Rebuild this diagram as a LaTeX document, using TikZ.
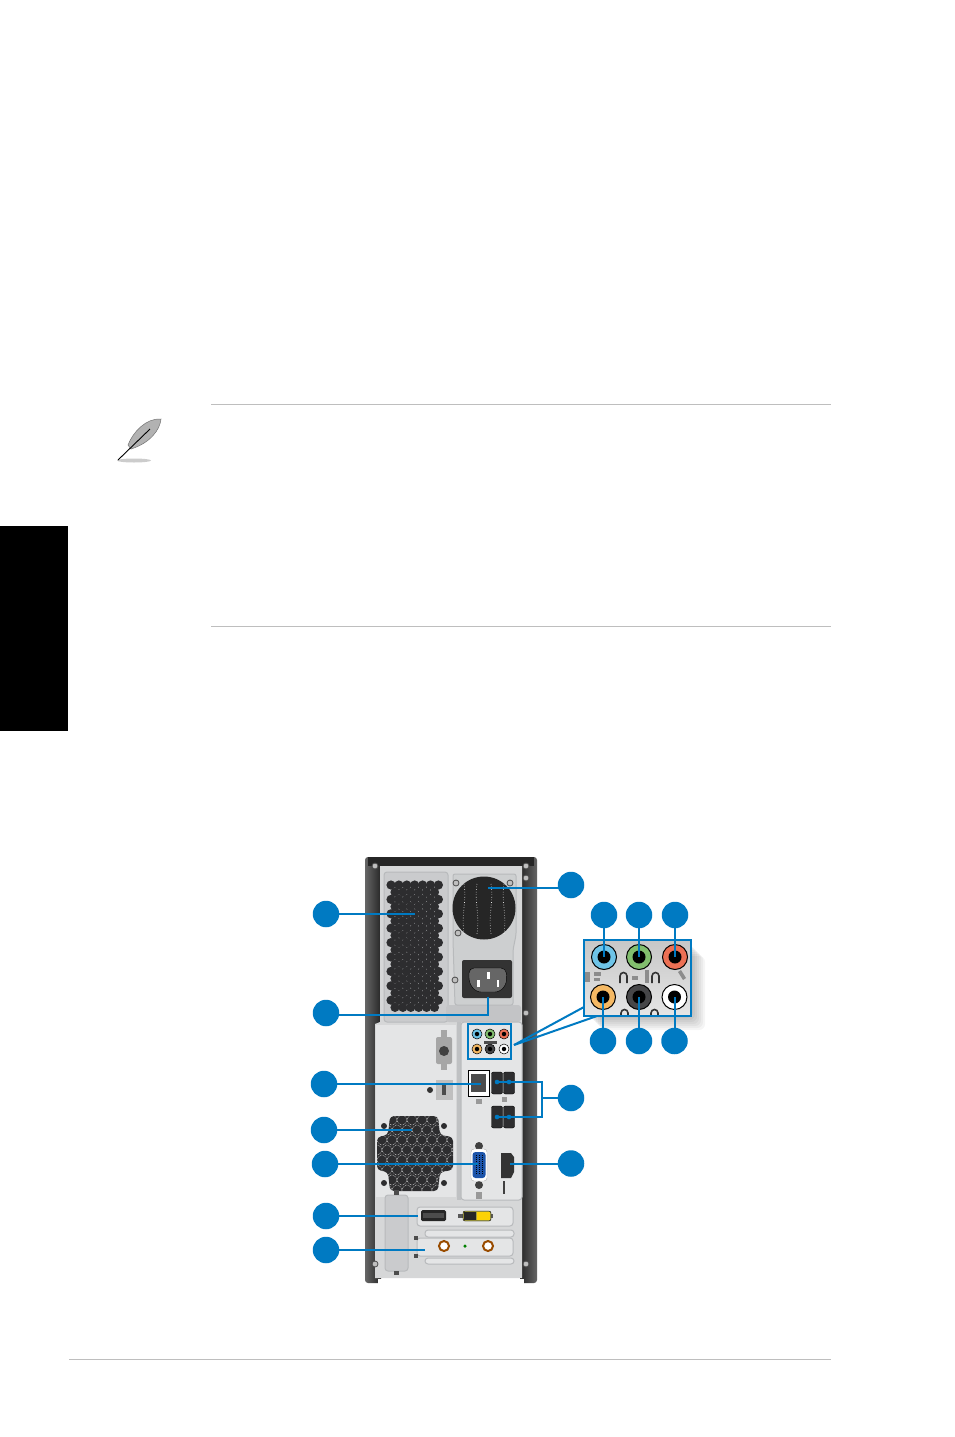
\documentclass[tikz,border=0pt]{standalone}
\usetikzlibrary{arrows.meta, calc}
\definecolor{leaderblue}{RGB}{0, 122, 194}
\definecolor{casedark}{RGB}{62, 62, 64}
\definecolor{panelgrey}{RGB}{214, 215, 216}
\definecolor{platelight}{RGB}{228, 229, 230}
\definecolor{platemid}{RGB}{184, 186, 188}
\definecolor{ventdark}{RGB}{45, 45, 47}
\definecolor{jackblue}{RGB}{110, 196, 232}
\definecolor{jackgreen}{RGB}{130, 190, 110}
\definecolor{jackred}{RGB}{236, 112, 84}
\definecolor{jackorange}{RGB}{245, 185, 100}
\definecolor{jackblack}{RGB}{70, 70, 72}
\definecolor{vgablue}{RGB}{28, 84, 170}
\definecolor{rulegrey}{RGB}{190, 190, 190}

\begin{document}
\begin{tikzpicture}[
    x=1pt, y=-1pt,
    callout/.style={circle, fill=leaderblue, draw=none, minimum size=26.5pt, inner sep=0pt},
    leader/.style={draw=leaderblue, line width=2pt},
    plate/.style={draw=platemid, line width=1pt, rounded corners=3pt, fill=platelight},
    screw/.style={circle, draw=black!70, fill=black!25, line width=0.8pt, minimum size=6pt, inner sep=0pt},
    jack/.style={circle, draw=black, line width=1pt, minimum size=25pt, inner sep=0pt},
    minijack/.style={circle, draw=black, line width=0.5pt, minimum size=10pt, inner sep=0pt},
    plug/.style={circle, fill=black, minimum size=13pt, inner sep=0pt},
    miniplug/.style={circle, fill=black, minimum size=4.5pt, inner sep=0pt},
    usbport/.style={fill=ventdark, draw=black, rounded corners=2pt, minimum width=11pt, minimum height=22pt, inner sep=0pt},
    glyph/.style={fill=black!45, draw=none},
    rule/.style={draw=rulegrey, line width=0.9pt}
]
\useasboundingbox (0,0) rectangle (954,1437);
\fill[white] (0,0) rectangle (954,1437);

% PAGE - tab and rules
\fill[black] (0,526) rectangle (68,731);
\coordinate (ruleAl) at (211,404.5);
\coordinate (ruleAr) at (831,404.5);
\coordinate (ruleBl) at (211,626.5);
\coordinate (ruleBr) at (831,626.5);
\coordinate (ruleCl) at (69,1359.5);
\coordinate (ruleCr) at (831,1359.5);
\draw[rule] (ruleAl) -- (ruleAr);
\draw[rule] (ruleBl) -- (ruleBr);
\draw[rule] (ruleCl) -- (ruleCr);

% Note feather
\fill[black!20] (134,460.5) ellipse (17 and 2);
\fill[black!30, draw=black!55, line width=0.5pt] (128,445) .. controls (133,432) and (146,418) .. (161,419)
    .. controls (160,430) and (150,443) .. (131,449) -- cycle;
\draw[black, line width=0.9pt] (118,460) -- (150,429);

% TOWER - case and panel
\shade[left color=black!60, right color=black!85, rounded corners=3pt] (365,857) rectangle (381,1283);
\shade[left color=black!85, right color=black!60, rounded corners=3pt] (520,857) rectangle (537,1283);
\fill[black!85] (368,857) rectangle (534,866);
\fill[panelgrey] (380,866) -- (522,866) -- (522,1278) -- (375,1278) -- (375,1024) -- (380,1022) -- cycle;

% Upper vent plate
\draw[plate, fill=platemid!75] (384,872) rectangle (448,1022);
\fill[platemid!85, rounded corners=3pt] (446,1005) rectangle (521,1022);

% Vent honeycomb
\foreach \r in {0,...,17}{
    \pgfmathsetmacro{\shift}{mod(\r,2)*4}
    \foreach \c in {0,...,6}{
        \pgfmathsetmacro{\vx}{391+\shift+\c*7.9}
        \pgfmathsetmacro{\vy}{885+\r*7.2}
        \ifdim \vx pt<441pt
            \fill[ventdark] (\vx,\vy) circle (4.6);
        \fi
    }
}

% PSU plate and fan
\draw[plate, fill=platemid!70, rounded corners=2pt] (453,874) -- (516,874) -- (516,935) -- (513,950) -- (513,1005) -- (455,1005) -- (453,940) -- cycle;
\fill[black!85] (484,908) circle (31.5);
\foreach \dx/\bend in {-20/3,-7/-3,7/3,20/-3}{
    \draw[white, line width=0.6pt, dotted] (484+\dx,884) .. controls (484+\dx+\bend,900) and (484+\dx-\bend,915) .. (484+\dx,934);
}
\node[screw] (psutl) at (456,883) {};
\node[screw] (psutr) at (510,883) {};
\node[screw] (psubl) at (458,933) {};
\node[screw] (psubr) at (455,980) {};

% Power socket
\fill[black!80, rounded corners=2pt] (462,960) rectangle (512,998);
\fill[black!60, draw=black, rounded corners=5pt] (469,968) -- (506,968) -- (507,983) -- (500,992) -- (476,992) -- (469,983) -- cycle;
\fill[white] (477,980) rectangle (479.5,987);
\fill[white] (487,972) rectangle (489.5,979);
\fill[white] (496.5,980) rectangle (499,987);

% Lower panels
\fill[platelight] (376,1025) -- (456,1025) -- (456,1197) -- (376,1197) -- cycle;
\fill[platemid!90] (457,1022) rectangle (461,1200);
\draw[plate, fill=platelight] (461,1022) -- (522,1022) -- (522,1200) -- (461,1200) -- cycle;

% Case screws
\node[screw] (caseTL) at (375,866) {};
\node[screw] (caseTR) at (526,866) {};
\node[screw] (caseTRb) at (526,878) {};
\node[screw] (caseMid) at (526,1013) {};
\node[screw] (caseBL) at (375,1264) {};
\node[screw] (caseBR) at (526,1264) {};

% Lock and slot
\fill[black!35, rounded corners=2pt] (436,1037) rectangle (452,1064);
\fill[black!35] (441,1030) rectangle (447,1070);
\fill[black!75] (444,1051) circle (5);
\fill[black!25] (436,1080) rectangle (453,1100);
\fill[black!70] (442,1084) rectangle (446,1095);
\fill[black!80] (430,1090) circle (3);

% Rear fan honeycomb
\begin{scope}
    \clip[rounded corners=4pt] (390,1116) -- (438,1116) -- (440,1135) -- (453,1137) -- (453,1170) -- (440,1172) -- (438,1191) -- (390,1191) -- (388,1172) -- (377,1170) -- (377,1137) -- (388,1135) -- cycle;
    \fill[ventdark] (370,1110) rectangle (460,1195);
    \foreach \r in {0,...,7}{
        \pgfmathsetmacro{\shift}{mod(\r,2)*5}
        \foreach \c in {0,...,8}{
            \draw[white, line width=0.5pt, densely dotted] ({372+\shift+\c*10},{1120+\r*10}) circle (5);
        }
    }
\end{scope}
\foreach \fx/\fy/\fname in {384/1126/fanA,444/1126/fanB,384/1183/fanC,444/1183/fanD}{
    \node[circle, fill=ventdark, minimum size=6pt, inner sep=0pt] (\fname) at (\fx,\fy) {};
}

% LAN, USB, VGA, DisplayPort
\fill[white, draw=black, line width=0.8pt] (468,1070) rectangle (489,1096);
\fill[black!70] (471,1074) rectangle (486,1092);
\node[usbport] (usbA) at (497,1083) {};
\node[usbport] (usbB) at (509,1083) {};
\node[usbport] (usbC) at (497,1117) {};
\node[usbport] (usbD) at (509,1117) {};
\fill[black!40] (476,1099) rectangle (482,1104);
\fill[black!40] (502,1097) rectangle (507,1102);
\node[circle, fill=black!75, minimum size=8pt, inner sep=0pt] (vgaT) at (479,1146) {};
\node[circle, fill=black!75, minimum size=8pt, inner sep=0pt] (vgaB) at (479,1185) {};
\fill[white, draw=black!30, rounded corners=3pt] (471,1149) rectangle (487,1181);
\fill[vgablue, rounded corners=3pt] (472.5,1152) rectangle (485.5,1178);
\foreach \vgax in {476,479,482}{
    \draw[black, line width=1pt, densely dotted] (\vgax,1155) -- (\vgax,1175);
}
\fill[black!40] (476,1192) rectangle (482,1199);
\fill[black!80] (501,1153) -- (511,1153) -- (514,1157) -- (514,1172) -- (511,1178) -- (501,1178) -- cycle;
\fill[black!75] (503,1181) rectangle (505,1194);

% Expansion cards
\draw[plate] (417,1207) rectangle (513,1226);
\draw[plate] (425,1230) rectangle (514,1237);
\draw[plate] (417,1238) rectangle (513,1256);
\draw[plate] (425,1258) rectangle (514,1264);
\fill[black!85, rounded corners=1.5pt] (421,1210) rectangle (446,1221);
\fill[black!70] (423,1213) rectangle (444,1218);
\fill[black!65] (458,1214) rectangle (493,1218);
\fill[yellow!60!black, draw=black, rounded corners=2pt] (463,1211) rectangle (491,1221);
\fill[yellow!70!orange] (477,1212) rectangle (490,1220);
\fill[black!85] (464,1212) rectangle (476,1220);
\foreach \ax/\aname in {444/antA,488/antB}{
    \node[circle, draw=orange!60!black, fill=white, line width=2pt, minimum size=10pt, inner sep=0pt] (\aname) at (\ax,1246) {};
}
\node[circle, fill=green!50!black, minimum size=3.5pt, inner sep=0pt] (antLed) at (465,1246) {};
\draw[plate, fill=platemid!75] (385,1195) rectangle (408,1271);
\fill[black!70] (394,1190) rectangle (399,1195);
\fill[black!70] (394,1271) rectangle (399,1275);
\fill[black!70] (414,1236) rectangle (418,1240);
\fill[black!70] (414,1254) rectangle (418,1258);
% Notch under the panel
\fill[white] (378,1279) rectangle (524,1284);

% Small audio block
\foreach \mx/\my/\mcol/\mname in {477/1034/jackblue/miniA,490/1034/jackgreen/miniB,504/1034/jackred/miniC,477/1049/jackorange/miniD,490/1049/jackblack/miniE,504/1049/white/miniF}{
    \node[minijack, fill=\mcol] (\mname) at (\mx,\my) {};
    \node[miniplug] at (\mx,\my) {};
}
\fill[black!70] (484,1041) rectangle (497,1044);
\node[draw=leaderblue, line width=2pt, minimum width=43pt, minimum height=35pt, inner sep=0pt] (audiosmall) at (489.5,1041.5) {};

% Audio close-up with shadow
\foreach \sh in {2,4,...,14}{
    \fill[black, opacity=0.04, rounded corners=6pt] ($(586,942)+(\sh,\sh)$) rectangle ($(691,1016)+(\sh,\sh)$);
}
\shade[top color=black!22, bottom color=black!10] (584,940) rectangle (691,1016);
\node[jack, fill=jackblue] (jackA) at (604,957) {};
\node[jack, fill=jackgreen] (jackB) at (639,957) {};
\node[jack, fill=jackred] (jackC) at (675,957) {};
\node[jack, fill=jackorange] (jackD) at (603,997) {};
\node[jack, fill=jackblack] (jackE) at (639,997) {};
\node[jack, fill=white] (jackF) at (674.5,997) {};
\foreach \j in {jackA,jackB,jackC,jackD,jackE,jackF}{
    \node[plug] at (\j) {};
}
% Small marks between jacks
\fill[glyph] (585,972) rectangle (590,982);
\fill[glyph] (594,972) rectangle (601,976);
\fill[glyph] (594,978) rectangle (600,981);
\draw[black!80, line width=1.6pt] (620,983) -- (620,976) arc[start angle=180, end angle=360, radius=3.5] -- (627,983);
\draw[black!80, line width=1.6pt] (652,983) -- (652,976) arc[start angle=180, end angle=360, radius=3.5] -- (659,983);
\draw[black!80, line width=1.6pt] (621,1016) -- (621,1013) arc[start angle=180, end angle=360, radius=3.5] -- (628,1016);
\draw[black!80, line width=1.6pt] (651,1016) -- (651,1013) arc[start angle=180, end angle=360, radius=3.5] -- (658,1016);
\fill[glyph] (632,976) rectangle (638,980);
\fill[glyph] (645,970) rectangle (649,983);
\fill[glyph] (678,972) -- (681,970) -- (686,978) -- (683,980) -- cycle;
\draw[draw=leaderblue, line width=2pt] (584,940) rectangle (691,1016);

% Leaders from small block to close-up
\coordinate (fanTip) at (488,888);
\coordinate (ventTip) at (415,914);
\coordinate (powerTip) at (488,997);
\coordinate (powerBend) at (488,1014.5);
\coordinate (lanTip) at (481,1084);
\coordinate (fanRearTip) at (412,1130);
\coordinate (vgaTip) at (478,1164);
\coordinate (hdmiTip) at (418,1216);
\coordinate (antTip) at (425,1250);
\coordinate (dpTip) at (510,1163.5);
\coordinate (usbBend) at (542,1098);
\coordinate (usbTop) at (542,1082);
\coordinate (usbBot) at (542,1117);
\coordinate (usbAtip) at (497,1082);
\coordinate (usbCtip) at (497,1117);
\coordinate (audioFrom) at (514,1045);
\coordinate (audioUp) at (584,1007);
\coordinate (audioDown) at (597,1016);
\draw[leader] (audioFrom) -- (audioUp);
\draw[leader] (audioFrom) -- (audioDown);

% Callouts
\node[callout] (cVent) at (326,914) {};
\node[callout] (cPower) at (326,1013) {};
\node[callout] (cLan) at (324,1084) {};
\node[callout] (cFan) at (324,1130) {};
\node[callout] (cVga) at (325,1164) {};
\node[callout] (cHdmi) at (326,1216) {};
\node[callout] (cAnt) at (326,1250) {};
\node[callout] (cPsu) at (571,885) {};
\node[callout] (cUsb) at (571,1098) {};
\node[callout] (cDp) at (571,1163.5) {};
\node[callout] (cJackA) at (604,915) {};
\node[callout] (cJackB) at (639,915) {};
\node[callout] (cJackC) at (675,915) {};
\node[callout] (cJackD) at (603,1041) {};
\node[callout] (cJackE) at (639,1041) {};
\node[callout] (cJackF) at (674.5,1041) {};

% Leaders
\draw[leader] (cVent) -- (ventTip);
\draw[leader] (cPower.center |- powerBend) -- (powerBend) -- (powerTip);
\draw[leader] (cLan) -- (lanTip);
\draw[leader] (cFan) -- (fanRearTip);
\draw[leader] (cVga) -- (vgaTip);
\draw[leader] (cHdmi) -- (hdmiTip);
\draw[leader] (cAnt) -- (antTip);
\draw[leader] (cPsu.center |- fanTip) -- (fanTip);
\draw[leader] (cDp) -- (dpTip);
\draw[leader] (cUsb) -- (usbBend);
\draw[leader] (usbAtip) -- (usbTop) -- (usbBot) -- (usbCtip);
\foreach \ux/\uy in {497/1082,509/1082,497/1117,509/1117}{
    \fill[leaderblue] (\ux,\uy) circle (2.3);
}
\draw[leader] (cJackA) -- (jackA.center);
\draw[leader] (cJackB) -- (jackB.center);
\draw[leader] (cJackC) -- (jackC.center);
\draw[leader] (cJackD) -- (jackD.center);
\draw[leader] (cJackE) -- (jackE.center);
\draw[leader] (cJackF) -- (jackF.center);

\end{tikzpicture}
\end{document}
